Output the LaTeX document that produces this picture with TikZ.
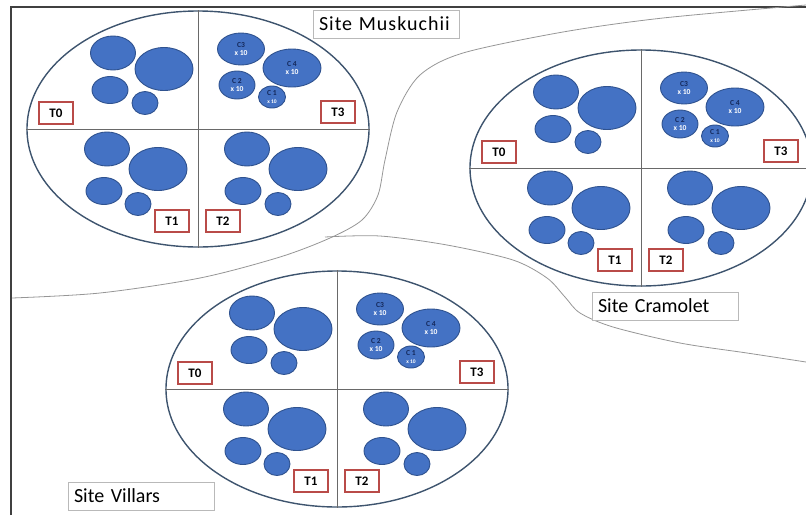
\documentclass[tikz,border=0pt]{standalone}
\usepackage{fontspec}
\setmainfont{Carlito}
\usepackage{tikz}
\usetikzlibrary{shapes.geometric, positioning}
\definecolor{plantblue}{RGB}{68, 114, 196}
\definecolor{plantborder}{RGB}{47, 82, 143}
\definecolor{cnavy}{RGB}{20, 40, 90}
\definecolor{fieldborder}{RGB}{62, 84, 110}
\definecolor{divgrey}{RGB}{105, 105, 105}
\definecolor{sitegrey}{RGB}{150, 150, 150}
\definecolor{tagred}{RGB}{185, 75, 72}
\definecolor{labelborder}{RGB}{185, 185, 185}
\tikzset{
  fieldblock/.style={
    ellipse, draw=fieldborder, line width=1.4pt,
    minimum width=342pt, minimum height=236pt, inner sep=0pt
  },
  divline/.style={draw=divgrey, line width=0.6pt},
  plantblock/.style={
    ellipse, draw=plantborder, fill=plantblue, line width=0.9pt,
    inner sep=0pt, align=center, text=white,
    font=\fontsize{7.6}{8.4}\selectfont\bfseries
  },
  plantL/.style={plantblock, minimum width=58pt, minimum height=43pt},
  plantM/.style={plantblock, minimum width=45pt, minimum height=34pt},
  plantS/.style={plantblock, minimum width=36pt, minimum height=27pt},
  plantXS/.style={plantblock, minimum width=26pt, minimum height=23pt},
  tagblock/.style={
    rectangle, draw=tagred, fill=white, line width=1.2pt,
    minimum width=34pt, minimum height=22pt, inner sep=0pt,
    font=\fontsize{13}{15}\selectfont\bfseries
  },
  siteblock/.style={
    rectangle, draw=labelborder, fill=white, line width=0.8pt,
    minimum height=28pt, text width=134pt, inner xsep=6pt,
    align=left, font=\fontsize{20}{23}\selectfont
  },
  siteline/.style={draw=sitegrey, line width=0.8pt},
  frameline/.style={draw=black!75, line width=1.3pt}
}

\begin{document}
\begin{tikzpicture}[x=1pt, y=-1pt]

  \useasboundingbox (0,0) rectangle (806,515);

  % Frame
  \draw[frameline] (11,515) -- (11,7) -- (806,7);

  % Site boundaries
  \draw[siteline] plot[smooth] coordinates {(12,298) (100,293) (200,278) (280,257)
    (330,238) (362,220) (378,195) (385,160) (397,112) (420,75) (463,53)
    (563,32) (663,18) (806,5)};
  \draw[siteline] plot[smooth] coordinates {(325,237) (380,236) (447,245) (513,260)
    (547,278) (565,297) (580,313) (613,327) (680,343) (747,353) (806,362)};

  % Fields: one per site, four treatments each
  \foreach \site/\cx/\cy in {musk/198/129, cram/641/168, vill/337/389} {
    \begin{scope}[shift={(\cx,\cy)}]
      \node[fieldblock] (\site) at (0,0) {};
      \draw[divline] (\site.north) -- (\site.south);
      \draw[divline] (\site.west) -- (\site.east);

      % T0
      \node[plantM] (\site-t0a) at (-85,-76) {};
      \node[plantL] (\site-t0b) at (-34,-60) {};
      \node[plantS] (\site-t0c) at (-88,-39) {};
      \node[plantXS] (\site-t0d) at (-53,-26) {};
      \node[tagblock] (\site-t0) at (-142,-16) {T0};

      % T3
      \node[plantM, minimum width=47pt, minimum height=32pt] (\site-c3) at (43,-80) {\textcolor{cnavy}{C3}\\x 10};
      \node[plantL, minimum height=38pt] (\site-c4) at (94,-61) {\textcolor{cnavy}{C 4}\\x 10};
      \node[plantS, minimum height=28pt] (\site-c2) at (39,-44) {\textcolor{cnavy}{C 2}\\x 10};
      \node[plantXS, minimum width=27pt, minimum height=22pt] (\site-c1) at (74,-32) {\textcolor{cnavy}{C 1}\\[-1pt]{\fontsize{5.5}{6}\selectfont x 10}};
      \node[tagblock] (\site-t3) at (140,-17) {T3};

      % T1
      \node[plantM] (\site-t1a) at (-91,20) {};
      \node[plantL] (\site-t1b) at (-40,40) {};
      \node[plantS] (\site-t1c) at (-94,62) {};
      \node[plantXS] (\site-t1d) at (-60,75) {};
      \node[tagblock] (\site-t1) at (-26,92) {T1};

      % T2
      \node[plantM] (\site-t2a) at (49,20) {};
      \node[plantL] (\site-t2b) at (100,40) {};
      \node[plantS] (\site-t2c) at (45,62) {};
      \node[plantXS] (\site-t2d) at (80,75) {};
      \node[tagblock] (\site-t2) at (25,92) {T2};
    \end{scope}
  }

  % Site names
  \node[siteblock] (muskname) at (386,24) {\addfontfeature{LetterSpace=5}Site Muskuchii};
  \node[siteblock] (cramname) at (665,306) {Site Cramolet};
  \node[siteblock] (villname) at (141,496) {Site Villars};

\end{tikzpicture}
\end{document}
